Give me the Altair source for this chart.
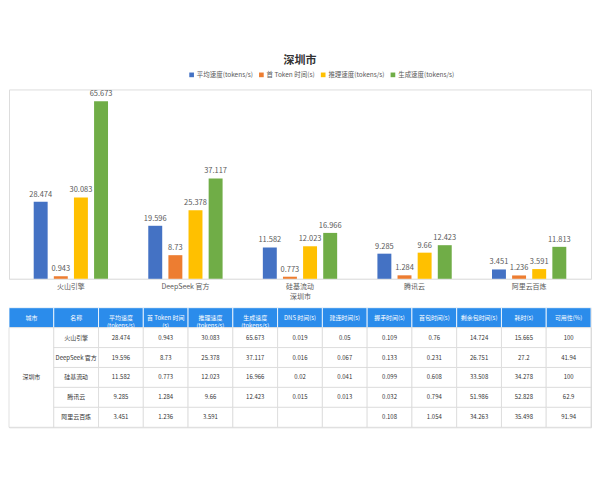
import altair as alt
import pandas as pd

city = "深圳市"
providers = ["火山引擎", "DeepSeek 官方", "硅基流动", "腾讯云", "阿里云百炼"]
series = ["平均速度(tokens/s)", "首 Token 时间(s)", "推理速度(tokens/s)", "生成速度(tokens/s)"]
avg_speed = [28.474, 19.596, 11.582, 9.285, 3.451]
first_token = [0.943, 8.73, 0.773, 1.284, 1.236]
infer_speed = [30.083, 25.378, 12.023, 9.66, 3.591]
gen_speed = [65.673, 37.117, 16.966, 12.423, 11.813]
table_gen_speed = [65.673, 37.117, 16.966, 12.423, None]
dns_time = [0.019, 0.016, 0.02, 0.015, None]
connect_time = [0.05, 0.067, 0.041, 0.013, None]
handshake_time = [0.109, 0.133, 0.099, 0.032, 0.108]
first_pkg_time = [0.76, 0.231, 0.608, 0.794, 1.054]
rest_pkg_time = [14.724, 26.751, 33.508, 51.986, 34.263]
total_time = [15.665, 27.2, 34.278, 52.828, 35.498]
availability = [100, 41.94, 100, 62.9, 91.94]
table_headers = ["城市", "名称", "平均速度\n(tokens/s)", "首 Token 时间\n(s)",
                 "推理速度\n(tokens/s)", "生成速度\n(tokens/s)", "DNS 时间(s)",
                 "建连时间(s)", "握手时间(s)", "首包时间(s)", "剩余包时间(s)",
                 "耗时(s)", "可用性(%)"]
colors = ["#4472C4", "#ED7D31", "#FFC000", "#70AD47"]


def fmt(v):
    return "" if v is None else f"{v:g}"


# ---------- bar chart ----------
rows = []
for s, vals in zip(series, [avg_speed, first_token, infer_speed, gen_speed]):
    for p, v in zip(providers, vals):
        rows.append({"provider": p, "series": s, "value": v, "label": fmt(v)})
bars_df = pd.DataFrame(rows)

x = alt.X("provider:N", sort=providers,
          scale=alt.Scale(paddingInner=0, paddingOuter=0.04),
          axis=alt.Axis(title=city, labelAngle=0, labelFontSize=7, titleFontSize=7,
                        titleFontWeight="normal", ticks=False, domainColor="#e3e3e3",
                        labelColor="#595959", titleColor="#595959",
                        labelPadding=4, titlePadding=3))
xo = alt.XOffset("series:N", sort=series,
                 scale=alt.Scale(paddingInner=0.307, paddingOuter=1))
y = alt.Y("value:Q", scale=alt.Scale(domain=[0, 70]), axis=None)

bars = alt.Chart(bars_df).mark_bar().encode(
    x=x, xOffset=xo, y=y,
    color=alt.Color("series:N", sort=series,
                    scale=alt.Scale(domain=series, range=colors),
                    legend=alt.Legend(title=None, orient="none", direction="horizontal",
                                      legendX=180, legendY=-18, symbolType="square",
                                      symbolSize=22, symbolStrokeWidth=0,
                                      labelFontSize=6.5, labelColor="#595959",
                                      columnPadding=5, labelOffset=2)),
)
labels = alt.Chart(bars_df).mark_text(dy=-7, fontSize=7.5, color="#595959").encode(
    x=x, xOffset=xo, y=y, text="label:N")

bar_chart = (bars + labels).properties(
    width=584, height=190,
    title=alt.TitleParams(city, fontSize=11, fontWeight="bold", color="#333333",
                          anchor="middle", offset=24),
)

# ---------- table ----------
cols = [
    [city] * 5, providers, avg_speed, first_token, infer_speed, table_gen_speed,
    dns_time, connect_time, handshake_time, first_pkg_time, rest_pkg_time,
    total_time, availability,
]
cells = []
for c, h in enumerate(table_headers):
    cells.append({"c0": c, "c1": c + 1, "r0": 0, "r1": 1, "text": h,
                  "fill": "#2B8CEB", "stroke": "#ffffff", "tc": "#ffffff"})
cells.append({"c0": 0, "c1": 1, "r0": 1, "r1": 6, "text": city,
              "fill": "#ffffff", "stroke": "#d9d9d9", "tc": "#333333"})
for c in range(1, len(table_headers)):
    for r, v in enumerate(cols[c]):
        cells.append({"c0": c, "c1": c + 1, "r0": r + 1, "r1": r + 2,
                      "text": v if isinstance(v, str) else fmt(v),
                      "fill": "#ffffff", "stroke": "#d9d9d9", "tc": "#333333"})
cells_df = pd.DataFrame(cells)
cells_df["cx"] = (cells_df["c0"] + cells_df["c1"]) / 2
cells_df["cy"] = (cells_df["r0"] + cells_df["r1"]) / 2

tx = alt.Scale(domain=[0, 13])
ty = alt.Scale(domain=[0, 6], reverse=True)
rects = alt.Chart(cells_df).mark_rect(strokeWidth=0.8).encode(
    x=alt.X("c0:Q", scale=tx, axis=None), x2="c1",
    y=alt.Y("r0:Q", scale=ty, axis=None), y2="r1",
    fill=alt.Fill("fill:N", scale=None), stroke=alt.Stroke("stroke:N", scale=None),
)
texts = alt.Chart(cells_df).mark_text(fontSize=6, lineBreak="\n", lineHeight=8.5).encode(
    x=alt.X("cx:Q", scale=tx, axis=None),
    y=alt.Y("cy:Q", scale=ty, axis=None),
    text="text:N", color=alt.Color("tc:N", scale=None),
)
table = (rects + texts).properties(width=584, height=120)

chart = alt.vconcat(bar_chart, table, spacing=6).properties(
    padding={"left": 0, "right": 0, "top": 45, "bottom": 0}
).configure_view(stroke=None).configure(font="Noto Sans CJK SC")

chart.save("out.html", embed_options={"renderer": "svg", "actions": False})
